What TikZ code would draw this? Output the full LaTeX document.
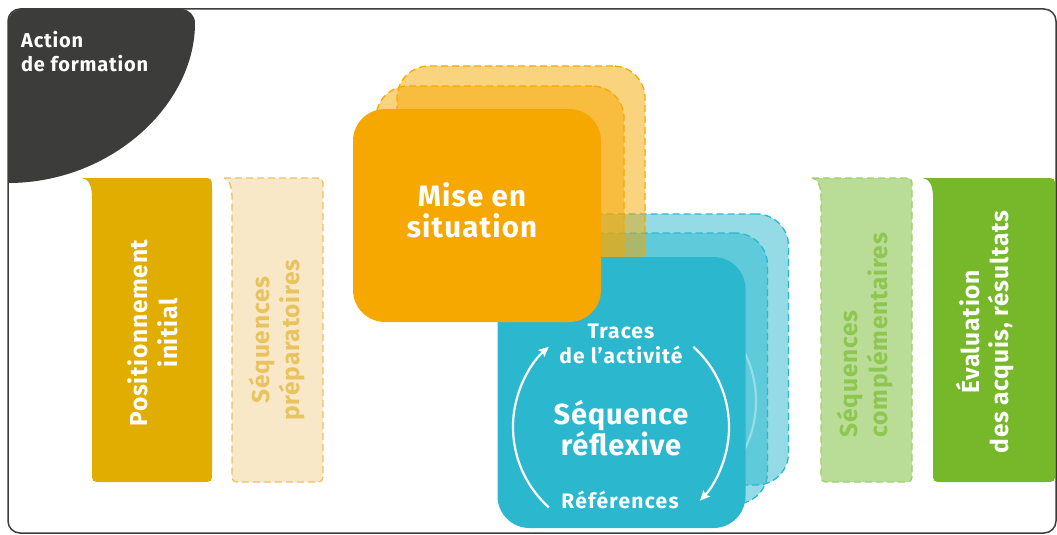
\documentclass[tikz,border=0pt]{standalone}
\usepackage{fontspec}
\setmainfont{Fira Sans}
\usetikzlibrary{arrows.meta}
\definecolor{dark}{HTML}{3C3C3B}
\definecolor{gold}{HTML}{E0AD00}
\definecolor{goldlt}{HTML}{F8E8C8}
\definecolor{goldtx}{HTML}{E9C45E}
\definecolor{orng}{HTML}{F6A800}
\definecolor{blu}{HTML}{2BB8CE}
\definecolor{grn}{HTML}{76B82A}
\definecolor{grnlt}{HTML}{B9DC96}
\definecolor{grntx}{HTML}{8DC650}
\newcommand\colpath[3]{(#1,178) -- ({#3-10},178) .. controls (#3,178) .. (#3,188) -- (#3,472) .. controls (#3,482) .. ({#3-10},482) -- ({#2+10},482) .. controls (#2,482) .. (#2,472) -- (#2,198) .. controls (#2,186) and ({#2-3},179) .. (#1,178) -- cycle}
\newcommand\fsz[3]{\bfseries\fontsize{#1}{#2}\selectfont\addfontfeature{LetterSpace=#3}}
\begin{document}
\begin{tikzpicture}[x=1pt,y=-1pt,
  dsh/.style={dash pattern=on 7pt off 4pt, line width=1.3pt},
  coltext/.style={rotate=90, align=center, font=\fsz{24.5}{29.5}{3}, inner sep=0pt},
  bigbox/.style={rectangle, rounded corners=32pt, inner sep=0pt, minimum width=248pt},
  backo/.style={bigbox, minimum height=213pt, fill=orng, fill opacity=0.5, draw=orng, draw opacity=1, dsh},
  backb/.style={bigbox, minimum height=271pt, fill=blu, fill opacity=0.5, draw=blu, draw opacity=1, dsh},
  whitetx/.style={text=white, align=center, inner sep=0pt},
  cyc/.style={white, line width=2.2pt, -{Stealth[length=10pt,width=9pt,inset=2pt]}}
]
\useasboundingbox (0,0) rectangle (1057,535);
% frame
\draw[dark, line width=1.5pt, rounded corners=12pt] (8,9) rectangle (1056,533);
% top-left corner label
\fill[dark] (8,183) [rounded corners=14pt] -- (8,9) -- (195,9) [sharp corners] .. controls (195,105) and (111,183) .. (8,183) -- cycle;
\node[whitetx, align=left, anchor=north west, font=\fsz{20}{24.5}{4}] (action) at (21,31) {Action\\de formation};
% columns
\fill[gold] \colpath{82}{92}{212};
\node[coltext, text=white] (posi) at (153,333) {Positionnement\\initial};
\filldraw[fill=goldlt, draw=goldtx, dsh] \colpath{224}{232}{323};
\node[coltext, text=goldtx] (prep) at (277,340) {Séquences\\préparatoires};
\filldraw[fill=grnlt, draw=grntx!85, dsh] \colpath{812}{821}{912};
\node[coltext, text=grntx, align=left] (compl) at (865,335) {Séquences\\complémentaires};
\fill[grn] \colpath{922}{933}{1055};
\node[coltext, text=white] (eval) at (985,332) {Évaluation\\des acquis, résultats};
% blue back boxes
\node[backb] (bback) at (664.5,349.5) {};
\node[backb] (bmid) at (643.5,368.5) {};
\coordinate (cm) at (648,401);
\draw[white, opacity=0.35, line width=2.2pt] ([shift={(50:108pt)}]cm) arc[start angle=50, end angle=-45, radius=108pt];
% orange back boxes
\node[backo] (oback) at (521,172.5) {};
\node[backo] (omid) at (500,192.5) {};
% blue front
\node[bigbox, minimum height=271pt, fill=blu] (bfront) at (621.5,392.5) {};
\coordinate (c) at (621,427);
\draw[cyc] ([shift={(228:108pt)}]c) arc[start angle=228, end angle=132, radius=108pt];
\draw[cyc] ([shift={(48:108pt)}]c) arc[start angle=48, end angle=-43, radius=108pt];
\node[whitetx, font=\fsz{21}{24.5}{5}] (traces) at (621,344) {Traces\\de l’activité};
\node[whitetx, font=\fsz{29}{31}{3}] (seqr) at (621,428) {Séquence\\réflexive};
\node[whitetx, font=\fsz{21}{24}{6}] (refs) at (620,500) {Références};
% orange front
\node[bigbox, minimum height=213pt, fill=orng] (ofront) at (477,215.5) {};
\node[whitetx, font=\fsz{29.5}{31}{4}] (mise) at (472,210) {Mise en\\situation};
\end{tikzpicture}
\end{document}
